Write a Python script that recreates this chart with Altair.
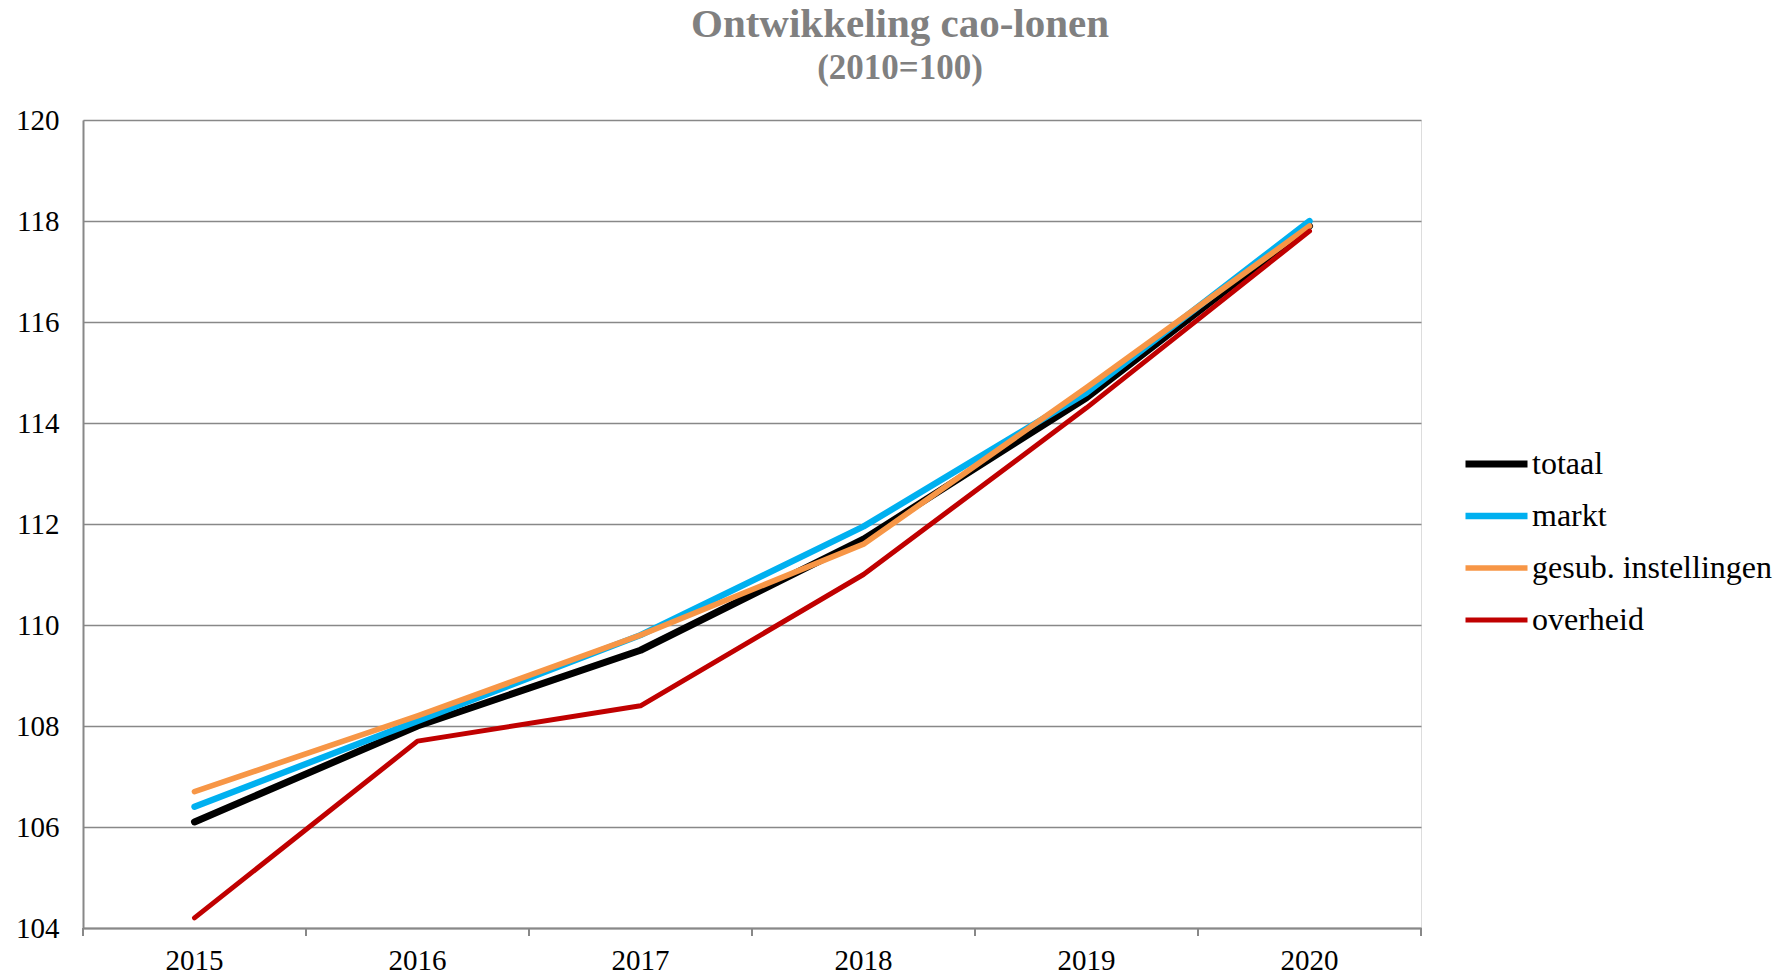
import altair as alt
import pandas as pd

years = ["2015", "2016", "2017", "2018", "2019", "2020"]
series = ["totaal", "markt", "gesub. instellingen", "overheid"]
totaal = [106.1, 108.0, 109.5, 111.7, 114.5, 117.9]
markt = [106.4, 108.1, 109.8, 111.95, 114.6, 118.0]
gesub = [106.7, 108.2, 109.8, 111.6, 114.7, 117.9]
overheid = [104.2, 107.7, 108.4, 111.0, 114.3, 117.8]
colors = ["#000000", "#00B0F0", "#F79646", "#C00000"]
widths = [7, 5, 5, 5]
y_ticks = [104, 106, 108, 110, 112, 114, 116, 118, 120]

rows = []
for name, vals in zip(series, [totaal, markt, gesub, overheid]):
    for j, v in zip(years, vals):
        rows.append({"jaar": j, "reeks": name, "waarde": v})
df = pd.DataFrame(rows)
yr = pd.DataFrame({"jaar": years})

FONT = "Liberation Serif"
GRAY = "#888888"
W, H = 1338, 808

xscale = alt.Scale(type="band", domain=years, paddingInner=0, paddingOuter=0)

lines = alt.Chart(df).mark_line(strokeCap="round", strokeJoin="round").encode(
    x=alt.X("jaar:O", scale=xscale, bandPosition=0.5,
            axis=alt.Axis(title=None, ticks=False, labelFont=FONT, labelFontSize=29,
                          labelColor="#000000", labelPadding=32, labelAngle=0,
                          labelAlign="center", bandPosition=0.5,
                          domainColor=GRAY, domainWidth=2, grid=False)),
    y=alt.Y("waarde:Q", scale=alt.Scale(domain=[104, 120], nice=False, zero=False),
            axis=alt.Axis(title=None, values=y_ticks, ticks=False, labelFont=FONT,
                          labelFontSize=29, labelColor="#000000", labelPadding=24,
                          domainColor=GRAY, domainWidth=2, grid=True,
                          gridColor=GRAY, gridWidth=1.5)),
    color=alt.Color("reeks:N", scale=alt.Scale(domain=series, range=colors),
                    sort=series,
                    legend=alt.Legend(title=None, orient="none", legendX=1379, legendY=326,
                                      symbolType="stroke", symbolSize=3844,
                                      symbolStrokeWidth=6, clipHeight=36, rowPadding=16,
                                      labelFont=FONT, labelFontSize=32, labelColor="#000000",
                                      labelOffset=1, labelLimit=0, padding=0)),
    strokeWidth=alt.StrokeWidth("reeks:N", scale=alt.Scale(domain=series, range=widths),
                                legend=None),
    order=alt.Order("volg:Q"),
).transform_calculate(
    volg="indexof(['totaal','markt','gesub. instellingen','overheid'], datum.reeks)"
)

ticks_a = alt.Chart(yr).mark_rule(color=GRAY, strokeWidth=2).encode(
    x=alt.X("jaar:O", scale=xscale, bandPosition=0),
    y=alt.value(H), y2=alt.value(H + 8),
)
ticks_b = alt.Chart(yr).transform_filter("datum.jaar == '2020'").mark_rule(
    color=GRAY, strokeWidth=2).encode(
    x=alt.X("jaar:O", scale=xscale, bandPosition=1),
    y=alt.value(H), y2=alt.value(H + 8),
)

chart = alt.layer(ticks_a, ticks_b, lines).properties(
    width=W, height=H,
    autosize=alt.AutoSizeParams(type="none"),
    padding={"left": 83, "top": 120, "right": 362, "bottom": 48},
    title=alt.TitleParams(
        text="Ontwikkeling cao-lonen", subtitle="(2010=100)",
        font=FONT, subtitleFont=FONT, fontSize=41, subtitleFontSize=35,
        fontWeight="bold", subtitleFontWeight="bold",
        color="#808080", subtitleColor="#808080",
        anchor="middle", dx=148, offset=19, subtitlePadding=5,
    ),
).configure_view(stroke=None).configure(background="white")

chart.save("out.html", embed_options={"renderer": "svg", "actions": False})
